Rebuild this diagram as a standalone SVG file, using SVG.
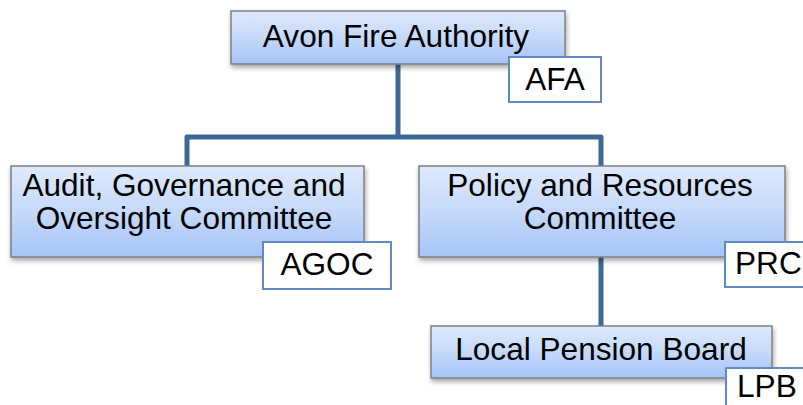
<svg xmlns="http://www.w3.org/2000/svg" width="803" height="405" viewBox="0 0 803 405">
  <defs>
    <linearGradient id="boxFill" x1="0" y1="0" x2="0" y2="1">
      <stop offset="0" stop-color="#dfe9fc"/>
      <stop offset="0.5" stop-color="#c5d9fa"/>
      <stop offset="1" stop-color="#a5c4f6"/>
    </linearGradient>
    <filter id="shadow" x="-10%" y="-20%" width="120%" height="150%">
      <feDropShadow dx="1" dy="3" stdDeviation="2.5" flood-color="#000" flood-opacity="0.35"/>
    </filter>
    <style>
      .box { fill: url(#boxFill); stroke: #808080; stroke-width: 1.5; filter: url(#shadow); }
      .tag { fill: #ffffff; stroke: #5f8ac6; stroke-width: 2; }
      .txt { font-family: "Liberation Sans", Arial, sans-serif; font-size: 31.6px; fill: #000; }
      .mid { text-anchor: middle; }
      .link { fill: none; stroke: #3f6796; stroke-width: 5; stroke-linejoin: round; }
    </style>
  </defs>
  <rect width="803" height="405" fill="#ffffff"/>

  <g id="connectors">
    <path class="link" d="M398,64 V137 M187,166 V137 H601 V166 M601,257 V326"/>
  </g>

  <g id="afa">
    <rect class="box" x="231" y="11" width="334" height="53"/>
    <text class="txt mid" x="396" y="47">Avon Fire Authority</text>
    <rect class="tag" x="509" y="57" width="92" height="45"/>
    <text class="txt mid" x="555" y="90">AFA</text>
  </g>

  <g id="agoc">
    <rect class="box" x="11" y="166" width="353" height="91"/>
    <text class="txt mid" x="184" y="196">Audit, Governance and</text>
    <text class="txt mid" x="184" y="229">Oversight Committee</text>
    <rect class="tag" x="263" y="242" width="128" height="47"/>
    <text class="txt mid" x="327" y="275">AGOC</text>
  </g>

  <g id="prc">
    <rect class="box" x="419" y="166" width="366" height="91"/>
    <text class="txt mid" x="600" y="196">Policy and Resources</text>
    <text class="txt mid" x="600" y="229">Committee</text>
    <rect class="tag" x="725" y="242" width="90" height="45"/>
    <text class="txt" x="735" y="274">PRC</text>
  </g>

  <g id="lpb">
    <rect class="box" x="431" y="326" width="341" height="52"/>
    <text class="txt mid" x="601" y="360">Local Pension Board</text>
    <rect class="tag" x="726" y="368" width="90" height="50"/>
    <text class="txt" x="737" y="397">LPB</text>
  </g>
</svg>
